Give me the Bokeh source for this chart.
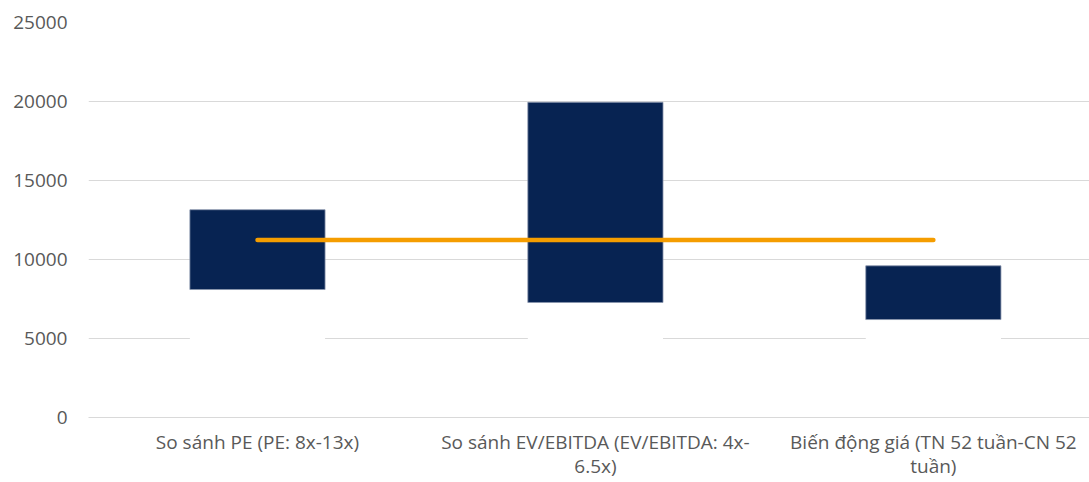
from bokeh.plotting import figure
from bokeh.embed import file_html
from bokeh.resources import INLINE
from bokeh.models import ColumnDataSource, Range1d, FixedTicker

categories = ["So sánh PE (PE: 8x-13x)",
              "So sánh EV/EBITDA (EV/EBITDA: 4x-\n6.5x)",
              "Biến động giá (TN 52 tuần-CN 52\ntuần)"]
low_values = [8100, 7280, 6200]
high_values = [13150, 19950, 9600]
current_price = 11230

xs = list(range(len(categories)))
src = ColumnDataSource(dict(x=xs, low=low_values, high=high_values, zero=[0]*len(xs)))

p = figure(width=1089, height=482, output_backend="svg", toolbar_location=None,
           x_range=Range1d(-0.5, 2.462), y_range=Range1d(0, 25000))
p.min_border_left = 88
p.min_border_right = 0
p.min_border_top = 22
p.min_border_bottom = 65
p.outline_line_color = None
p.background_fill_color = "white"
p.border_fill_color = "white"

p.vbar(x="x", bottom="zero", top="low", width=0.4, source=src,
       fill_color="white", line_color=None)
p.vbar(x="x", bottom="low", top="high", width=0.4, source=src,
       fill_color="#072352", line_color="#8a96ad", line_width=0.8)
p.line(x=[xs[0], xs[-1]], y=[current_price, current_price],
       line_color="#F59D00", line_width=4.5, line_cap="round")

p.xgrid.grid_line_color = None
p.ygrid.grid_line_color = "#d9d9d9"
p.ygrid.grid_line_width = 1.2

p.yaxis.ticker = FixedTicker(ticks=[0, 5000, 10000, 15000, 20000, 25000])
p.yaxis.axis_line_color = None
p.yaxis.major_tick_line_color = None
p.yaxis.minor_tick_line_color = None
p.yaxis.major_label_standoff = 15
p.yaxis.major_label_text_font = "Open Sans"
p.yaxis.major_label_text_font_size = "19px"
p.yaxis.major_label_text_color = "#595959"

p.xaxis.ticker = FixedTicker(ticks=xs)
p.xaxis.major_label_overrides = {i: c for i, c in zip(xs, categories)}
p.xaxis.axis_line_color = "#d9d9d9"
p.xaxis.axis_line_width = 1.2
p.xaxis.major_tick_line_color = None
p.xaxis.minor_tick_line_color = None
p.xaxis.major_label_standoff = 5
p.xaxis.major_label_text_font = "Open Sans"
p.xaxis.major_label_text_font_size = "19px"
p.xaxis.major_label_text_color = "#595959"
p.xaxis.major_label_text_line_height = 0.95

open("out.html", "w").write(file_html(p, INLINE))
